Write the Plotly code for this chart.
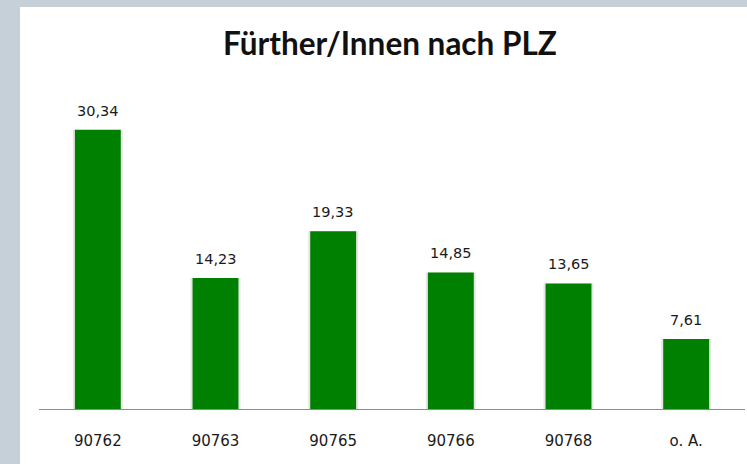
import plotly.graph_objects as go

categories = ["90762", "90763", "90765", "90766", "90768", "o. A."]
values = [30.34, 14.23, 19.33, 14.85, 13.65, 7.61]
title_text = "Fürther/Innen nach PLZ"

W, H = 747, 464
ml, mr, mt, mb = 39, 2, 100, 55
pw = W - ml - mr
ph = H - mt - mb

def px_x(x):
    return (x - ml) / pw

def px_y(y):
    return (H - mb - y) / ph

fig = go.Figure()

bar_w = 0.39
fig.add_trace(go.Bar(
    x=categories, y=values, width=bar_w + 0.035,
    marker=dict(color="rgba(0,0,0,0.10)", line=dict(width=0)),
    hoverinfo="skip", showlegend=False,
))
fig.add_trace(go.Bar(
    x=categories, y=values, width=bar_w,
    marker=dict(color="#008000", line=dict(width=0)),
    showlegend=False,
))

for i, v in enumerate(values):
    fig.add_annotation(
        x=i, y=v, text=f"{v:.2f}".replace(".", ","), showarrow=False,
        yshift=19, font=dict(family="DejaVu Sans", size=14.5, color="#1a1a1a"),
    )

fig.update_layout(
    width=W, height=H,
    margin=dict(l=ml, r=mr, t=mt, b=mb, pad=0),
    paper_bgcolor="#c5d0d8",
    plot_bgcolor="rgba(0,0,0,0)",
    barmode="overlay",
    separators=",.",
    title=dict(
        text="<b>" + title_text + "</b>",
        x=390 / W, xanchor="center",
        y=1 - 44 / H, yanchor="middle",
        font=dict(family="Lato", size=31.5, color="#111111"),
    ),
    xaxis=dict(
        type="category",
        range=[-0.5, len(categories) - 0.5],
        showline=True, linecolor="#8c8c8c", linewidth=1,
        showgrid=False, ticks="", ticklabelstandoff=18,
        tickfont=dict(family="DejaVu Sans", size=15, color="#1a1a1a"),
        fixedrange=True,
    ),
    yaxis=dict(
        range=[0, ph / 9.2], visible=False, showgrid=False, zeroline=False,
        fixedrange=True,
    ),
    shapes=[
        dict(type="rect", xref="paper", yref="paper", layer="below",
             x0=px_x(20), x1=px_x(W + 5), y0=px_y(H + 5), y1=px_y(7),
             fillcolor="white", line=dict(width=0)),
    ],
)

fig.write_html(
    "out.html",
    config={"displayModeBar": False},
    post_script="document.body.style.margin='0';document.documentElement.style.overflow='hidden';",
)
